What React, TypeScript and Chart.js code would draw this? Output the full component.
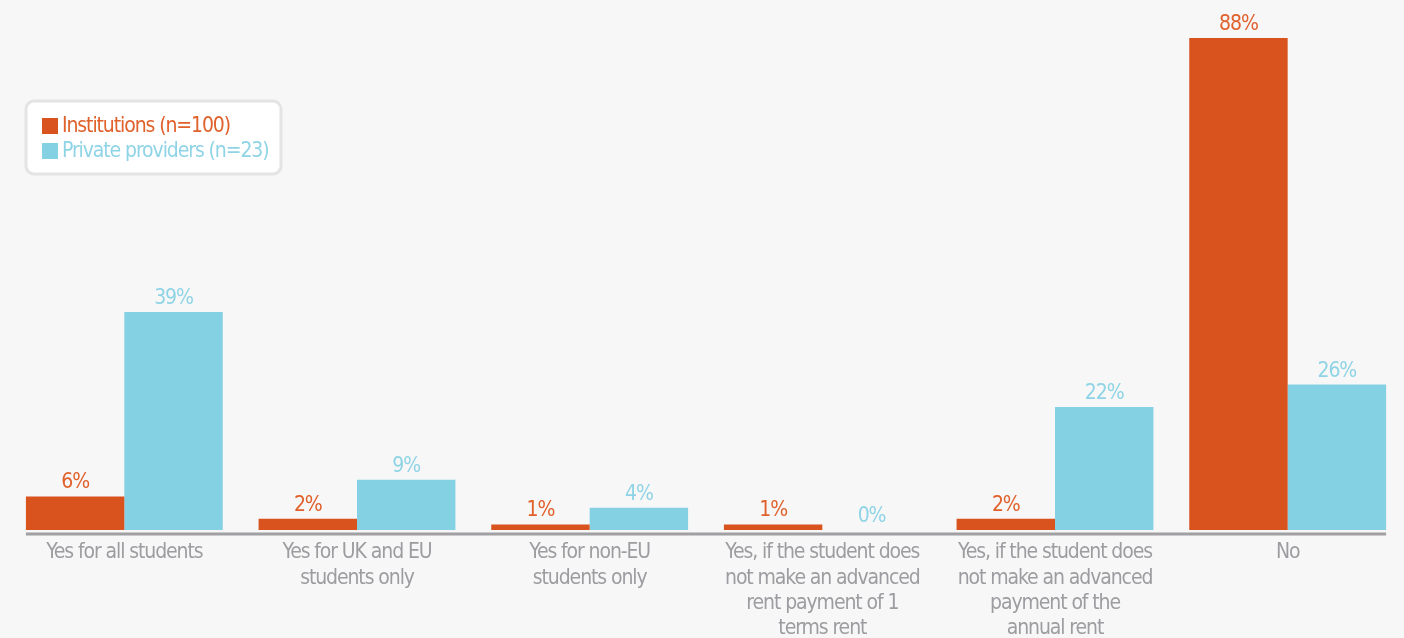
import React, { useEffect, useRef } from "react";
import { Chart, registerables } from "chart.js";

Chart.register(...registerables);

const categories: string[][] = [
  ["Yes for all students"],
  ["Yes for UK and EU", "students only"],
  ["Yes for non-EU", "students only"],
  ["Yes, if the student does", "not make an advanced", "rent payment of 1", "terms rent"],
  ["Yes, if the student does", "not make an advanced", "payment of the", "annual rent"],
  ["No"],
];
const institutions = [6, 2, 1, 1, 2, 88];
const privateProviders = [39, 9, 4, 0, 22, 26];
const seriesLabels = ["Institutions (n=100)", "Private providers (n=23)"];

const ORANGE = "#d9531e";
const BLUE = "#84d1e4";
const ORANGE_TEXT = "#e0612c";
const BLUE_TEXT = "#8fd4e6";
const GRAY_TEXT = "#9d9da1";
const FONT = "'Liberation Sans Narrow', 'DejaVu Sans Condensed', 'Roboto', sans-serif";

const condense = {
  id: "condense",
  beforeDraw(chart: any) {
    (chart.ctx as any).letterSpacing = "-1.1px";
  },
};

const barLabels = {
  id: "barLabels",
  afterDatasetsDraw(chart: any) {
    const ctx = chart.ctx;
    ctx.save();
    ctx.font = `21px ${FONT}`;
    ctx.textAlign = "center";
    ctx.textBaseline = "alphabetic";
    chart.data.datasets.forEach((ds: any, i: number) => {
      const meta = chart.getDatasetMeta(i);
      ctx.fillStyle = ds.labelColor;
      meta.data.forEach((el: any, j: number) => {
        ctx.fillText(`${ds.data[j]}%`, el.x, el.y - 8);
      });
    });
    ctx.restore();
  },
};

const axisLine = {
  id: "axisLine",
  afterDatasetsDraw(chart: any) {
    const ctx = chart.ctx;
    const first = chart.getDatasetMeta(0).data[0];
    const lastMeta = chart.getDatasetMeta(chart.data.datasets.length - 1).data;
    const last = lastMeta[lastMeta.length - 1];
    const y = chart.chartArea.bottom + 4;
    ctx.save();
    ctx.strokeStyle = "#a0a0a3";
    ctx.lineWidth = 3;
    ctx.beginPath();
    ctx.moveTo(first.x - first.width / 2, y);
    ctx.lineTo(last.x + last.width / 2, y);
    ctx.stroke();
    ctx.restore();
  },
};

const boxLegend = {
  id: "boxLegend",
  afterDraw(chart: any) {
    const ctx = chart.ctx;
    const x = 26, y = 101, w = 255, h = 73;
    ctx.save();
    ctx.fillStyle = "#ffffff";
    ctx.strokeStyle = "#e4e4e4";
    ctx.lineWidth = 3;
    ctx.beginPath();
    ctx.roundRect(x, y, w, h, 8);
    ctx.fill();
    ctx.stroke();
    ctx.font = `21px ${FONT}`;
    ctx.textBaseline = "middle";
    ctx.textAlign = "left";
    chart.data.datasets.forEach((ds: any, i: number) => {
      const cy = 126 + i * 25;
      ctx.fillStyle = ds.backgroundColor;
      ctx.fillRect(42, cy - 8, 16, 16);
      ctx.fillStyle = ds.labelColor;
      ctx.fillText(ds.label, 62, cy + 1);
    });
    ctx.restore();
  },
};

export default function App() {
  const ref = useRef<HTMLCanvasElement>(null);
  useEffect(() => {
    if (!ref.current) return;
    const chart = new Chart(ref.current, {
      type: "bar",
      data: {
        labels: categories,
        datasets: [
          { label: seriesLabels[0], data: institutions, backgroundColor: ORANGE, labelColor: ORANGE_TEXT } as any,
          { label: seriesLabels[1], data: privateProviders, backgroundColor: BLUE, labelColor: BLUE_TEXT } as any,
        ],
      },
      options: {
        animation: false,
        responsive: false,
        devicePixelRatio: 1,
        layout: { padding: { left: 8, right: 0, top: 10, bottom: 0 } },
        datasets: { bar: { categoryPercentage: 0.846, barPercentage: 1.0 } },
        plugins: { legend: { display: false }, tooltip: { enabled: false } },
        scales: {
          y: { display: false, min: 0, max: 93 },
          x: {
            grid: { display: false, drawTicks: false },
            border: { display: false },
            ticks: {
              color: GRAY_TEXT,
              font: { family: FONT, size: 21, lineHeight: 1.21 },
              padding: 10,
              maxRotation: 0,
              autoSkip: false,
            },
            afterFit(scale: any) {
              scale.height = 115;
            },
          },
        },
      },
      plugins: [condense, axisLine, barLabels, boxLegend],
    });
    return () => chart.destroy();
  }, []);
  return (
    <div style={{ position: "absolute", left: 0, top: 0, width: 1404, height: 645, background: "#f7f7f7", overflow: "hidden" }}>
      <canvas ref={ref} width={1404} height={645} style={{ display: "block" }} />
    </div>
  );
}
